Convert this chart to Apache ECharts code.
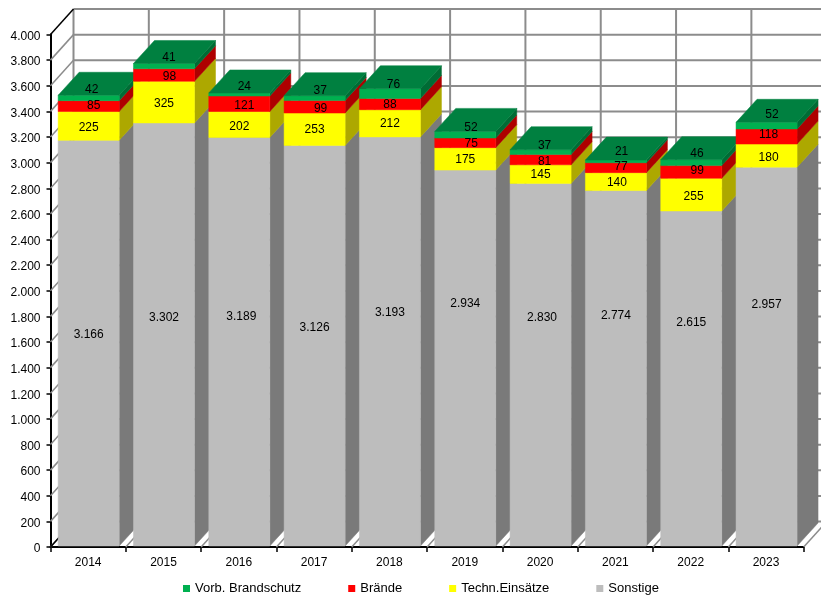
<!DOCTYPE html>
<html>
<head>
<meta charset="utf-8">
<style>html,body{margin:0;padding:0;background:#fff}#c{width:821px;height:595px}</style>
<script src="https://cdn.jsdelivr.net/npm/echarts@6/dist/echarts.min.js"></script>
</head>
<body>
<div id="c"></div>
<script>
// ---- chart data ----
const years = ['2014','2015','2016','2017','2018','2019','2020','2021','2022','2023'];
const sonstige = [3166,3302,3189,3126,3193,2934,2830,2774,2615,2957];
const techn    = [225,325,202,253,212,175,145,140,255,180];
const braende  = [85,98,121,99,88,75,81,77,99,118];
const vorb     = [42,41,24,37,76,52,37,21,46,52];
const axisTicks = [0,200,400,600,800,1000,1200,1400,1600,1800,2000,2200,2400,2600,2800,3000,3200,3400,3600,3800,4000];

// ---- where each data label sits, as a level on the value axis ----
const sonstigeLabelLevel = [1668,1797,1807,1719,1838,1904,1799,1815,1758,1901];
const technLabelLevel    = [3284,3471,3291,3263,3310,3029,2912,2849,2745,3045];
const braendeLabelLevel  = [3455,3682,3455,3432,3459,3154,3018,2979,2948,3224];
const vorbLabelLevel     = [3576,3823,3602,3570,3615,3284,3138,3096,3080,3380];

// ---- label nudges to the right, px ----
const sonstigeLabelShift = [0,0,2,0,0,0,1.4,0,0,0];
const technLabelShift    = [0,0,0,0,0,0,0,1,2.4,2];
const braendeLabelShift  = [5,5.5,5,6,0,6,4,5,6,2];
const vorbLabelShift     = [3,5,5,5.6,3.6,5.7,4,5.7,5.8,5.5];

// ---- 3D look ----
const WALL_DX = 23, WALL_DY = -25.5;
const BAR_DX = 21, BAR_DY = -23;
const FRONT_DY = -1;
const BAR_RATIO = 0.81;
const LABEL_DY = 1;
const FONT = '"Liberation Sans", Arial, sans-serif';
const GRID = '#8c8c8c';

const layers = [
  {name:'Sonstige',        values:sonstige, level:sonstigeLabelLevel, shift:sonstigeLabelShift, front:'#BDBDBD', side:'#7A7A7A', top:'#9a9a9a'},
  {name:'Techn.Einsätze',  values:techn,    level:technLabelLevel,    shift:technLabelShift,    front:'#FFFF00', side:'#ADA800', top:'#d8d800'},
  {name:'Brände',          values:braende, level:braendeLabelLevel,  shift:braendeLabelShift,  front:'#FF0000', side:'#AE0000', top:'#d00000'},
  {name:'Vorb. Brandschutz',values:vorb,    level:vorbLabelLevel,     shift:vorbLabelShift,     front:'#00B050', side:'#006C35', top:'#008040'}
];

function poly(points, fill, z2){
  return {type:'polygon', silent:true, z2:z2, shape:{points:points}, style:{fill:fill, stroke:fill, lineWidth:0.5}};
}
function seg(x1,y1,x2,y2,color,width,z2){
  return {type:'line', silent:true, z2:z2, shape:{x1:x1,y1:y1,x2:x2,y2:y2}, style:{stroke:color, lineWidth:width}};
}

function barRenderer(layerIndex){
  const layer = layers[layerIndex];
  return function(params, api){
    const i = params.dataIndex;
    let base = 0;
    for (let k=0;k<layerIndex;k++) base += layers[k].values[i];
    const v = api.value(1);
    const bottom = api.coord([i, base]);
    const top = api.coord([i, base+v]);
    const w = api.size([1,0])[0]*BAR_RATIO;
    const xl = bottom[0]-w/2+0.5, xr = xl+w;
    const yb = bottom[1]+FRONT_DY, yt = top[1]+FRONT_DY;
    const zBase = i*10+layerIndex;
    const children = [
      poly([[xr,yb],[xr+BAR_DX,yb+BAR_DY],[xr+BAR_DX,yt+BAR_DY],[xr,yt]], layer.side, zBase),
      poly([[xl,yb],[xr,yb],[xr,yt],[xl,yt]], layer.front, zBase)
    ];
    if (layerIndex === layers.length-1){
      children.push(poly([[xl,yt],[xr,yt],[xr+BAR_DX,yt+BAR_DY],[xl+BAR_DX,yt+BAR_DY]], layer.top, zBase));
    }
    const lab = api.coord([i, layer.level[i]]);
    const cx = (xl+xr)/2 + layer.shift[i];
    children.push({type:'text', silent:true, z2:1000, style:{
      x:cx, y:lab[1]+LABEL_DY, text:fmt(v), align:'center', verticalAlign:'middle',
      font:'12px '+FONT, fill:'#000'
    }});
    return {type:'group', children:children};
  };
}

function fmt(v){ return String(v).replace(/\B(?=(\d{3})+$)/g,'.'); }

// back wall, side wall and floor lines
function wallValueRenderer(params, api){
  const p = api.coord([0, api.value(0)]);
  const x0 = params.coordSys.x, x1 = x0+params.coordSys.width;
  const y = p[1];
  const dark = api.value(0)===0 || api.value(0)===4000;
  return {type:'group', children:[
    seg(x0,y,x0+WALL_DX,y+WALL_DY, dark?'#000':GRID, 1.5, dark?5:2),
    seg(x0+WALL_DX,y+WALL_DY,x1+WALL_DX,y+WALL_DY,GRID,2,1)
  ]};
}
function wallCategoryRenderer(params, api){
  const cs = params.coordSys;
  const w = cs.width/years.length;
  const x = cs.x + w*api.value(0);
  const yb = cs.y+cs.height, yt = cs.y;
  return {type:'group', children:[
    seg(x+WALL_DX,yb+WALL_DY,x+WALL_DX,yt+WALL_DY,GRID,2,1),
    seg(x,yb,x+WALL_DX,yb+WALL_DY,GRID,1.5,2)
  ]};
}

const barSeries = layers.map((l,idx)=>({
  name:l.name, type:'custom', coordinateSystem:'cartesian2d', z:3, clip:false, silent:true,
  itemStyle:{color:l.front},
  renderItem:barRenderer(idx),
  encode:{x:0,y:1},
  data:l.values.map((v,i)=>[i,v])
}));

const chart = echarts.init(document.getElementById('c'), null, {renderer:'canvas'});
chart.setOption({
  animation:false,
  backgroundColor:'#fff',
  textStyle:{fontFamily:FONT},
  grid:{left:50.5, right:17.3, top:34.5, bottom:48, containLabel:false},
  legend:{
    left:178, top:577, itemWidth:7, itemHeight:7, itemGap:47, icon:'rect', selectedMode:false,
    textStyle:{fontFamily:FONT, fontSize:13, color:'#000'},
    data:['Vorb. Brandschutz','Brände','Techn.Einsätze','Sonstige']
  },
  xAxis:{
    type:'category', data:years, boundaryGap:true,
    axisLine:{lineStyle:{color:'#000',width:2}},
    axisTick:{show:true, alignWithLabel:false, length:5, lineStyle:{color:'#000',width:1.5}},
    axisLabel:{color:'#000', fontFamily:FONT, fontSize:12, margin:10},
    splitLine:{show:false}
  },
  yAxis:{
    type:'value', min:0, max:4000, interval:200,
    axisLine:{show:true, lineStyle:{color:'#000',width:2}},
    axisTick:{show:true, length:4, lineStyle:{color:'#000',width:1.5}},
    axisLabel:{color:'#000', fontFamily:FONT, fontSize:12, margin:10, verticalAlign:'top', lineHeight:4, formatter:fmt},
    splitLine:{show:false}
  },
  series:[
    {type:'custom', name:'wallsV', coordinateSystem:'cartesian2d', z:1, clip:false, silent:true,
     renderItem:wallValueRenderer, encode:{y:0}, data:axisTicks.map(t=>[t])},
    {type:'custom', name:'wallsC', coordinateSystem:'cartesian2d', z:1, clip:false, silent:true,
     renderItem:wallCategoryRenderer, encode:{x:0}, data:years.map((y,i)=>[i]).concat([[years.length]])}
  ].concat(barSeries)
});
</script>
</body>
</html>
